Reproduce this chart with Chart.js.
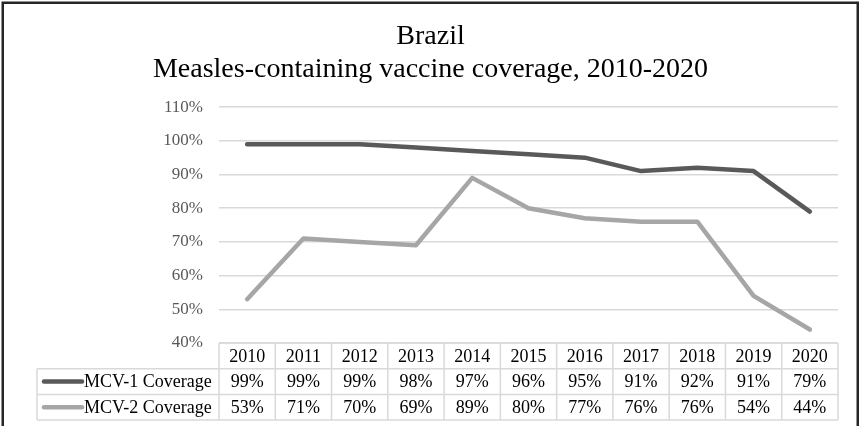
<!DOCTYPE html>
<html>
<head>
<meta charset="utf-8">
<title>Brazil MCV coverage</title>
<script src="https://cdn.jsdelivr.net/npm/chart.js@4/dist/chart.umd.min.js"></script>
<style>
  html, body { margin: 0; padding: 0; background: #fff; }
  #wrap { width: 861px; height: 426px; position: relative; }
</style>
</head>
<body>
<div id="wrap"><canvas id="coverageChart"></canvas></div>
<script>
const years = ['2010', '2011', '2012', '2013', '2014', '2015', '2016', '2017', '2018', '2019', '2020'];
const mcv1 = [99, 99, 99, 98, 97, 96, 95, 91, 92, 91, 79];
const mcv2 = [53, 71, 70, 69, 89, 80, 77, 76, 76, 54, 44];
const seriesNames = ['MCV-1 Coverage', 'MCV-2 Coverage'];
const seriesColors = ['#595959', '#a6a6a6'];

const serif = "'Liberation Serif', 'Times New Roman', serif";
const gridColor = '#d9d9d9';

// data table under the plot, columns follow the category scale
const dataTable = {
  id: 'dataTable',
  afterDraw(chart) {
    const ctx = chart.ctx;
    const xs = chart.scales.x;
    const area = chart.chartArea;
    const rowH = 25.7;
    const top = area.bottom;
    const labelLeft = 37;
    const n = years.length;

    const centers = years.map((y, i) => xs.getPixelForValue(i));
    const step = n > 1 ? centers[1] - centers[0] : area.right - area.left;
    const edges = centers.map(c => c - step / 2);
    edges.push(centers[n - 1] + step / 2);

    ctx.save();
    ctx.strokeStyle = gridColor;
    ctx.lineWidth = 1.5;
    ctx.beginPath();
    // horizontal rules
    ctx.moveTo(edges[0], top);
    ctx.lineTo(edges[n], top);
    for (let r = 1; r <= 3; r++) {
      ctx.moveTo(labelLeft, top + r * rowH);
      ctx.lineTo(edges[n], top + r * rowH);
    }
    // vertical rules
    edges.forEach(x => {
      ctx.moveTo(x, top);
      ctx.lineTo(x, top + 3 * rowH);
    });
    ctx.moveTo(labelLeft, top + rowH);
    ctx.lineTo(labelLeft, top + 3 * rowH);
    ctx.stroke();

    ctx.fillStyle = '#000';
    ctx.font = '18px ' + serif;
    ctx.textBaseline = 'middle';
    ctx.textAlign = 'center';
    years.forEach((y, i) => ctx.fillText(y, centers[i], top + rowH / 2 + 1));

    chart.data.datasets.forEach((ds, r) => {
      const cy = top + (r + 1.5) * rowH + 1;
      ctx.textAlign = 'center';
      ds.data.forEach((v, i) => ctx.fillText(v + '%', centers[i], cy));

      ctx.strokeStyle = ds.borderColor;
      ctx.lineWidth = 4.5;
      ctx.lineCap = 'round';
      ctx.beginPath();
      ctx.moveTo(44, cy - 1);
      ctx.lineTo(82, cy - 1);
      ctx.stroke();

      ctx.textAlign = 'left';
      ctx.fillText(ds.label, 84, cy);
    });

    // outer frame
    ctx.strokeStyle = '#262626';
    ctx.lineWidth = 2.5;
    ctx.strokeRect(2.75, 2.75, 855, 440);
    ctx.restore();
  }
};

new Chart(document.getElementById('coverageChart'), {
  type: 'line',
  data: {
    labels: years,
    datasets: [
      {
        label: seriesNames[0],
        data: mcv1,
        borderColor: seriesColors[0],
        backgroundColor: seriesColors[0],
        borderWidth: 4.5,
        pointRadius: 0,
        borderCapStyle: 'round',
        borderJoinStyle: 'round',
        tension: 0
      },
      {
        label: seriesNames[1],
        data: mcv2,
        borderColor: seriesColors[1],
        backgroundColor: seriesColors[1],
        borderWidth: 4.5,
        pointRadius: 0,
        borderCapStyle: 'round',
        borderJoinStyle: 'round',
        tension: 0
      }
    ]
  },
  options: {
    responsive: true,
    maintainAspectRatio: false,
    animation: false,
    layout: { padding: { left: 23, right: 23, top: 0, bottom: 83 } },
    plugins: {
      legend: { display: false },
      tooltip: { enabled: false },
      title: {
        display: true,
        text: ['Brazil', 'Measles-containing vaccine coverage, 2010-2020'],
        color: '#000',
        font: { family: serif, size: 28, weight: 'normal', lineHeight: 1.18 },
        padding: { top: 20.5, bottom: 20.5 }
      }
    },
    scales: {
      x: {
        type: 'category',
        offset: true,
        display: false
      },
      y: {
        min: 40,
        max: 110,
        afterFit(scale) { scale.width = 196; },
        border: { display: false },
        grid: { color: gridColor, lineWidth: 1.5, drawTicks: false },
        ticks: {
          stepSize: 10,
          padding: 16,
          color: '#595959',
          font: { family: serif, size: 17 },
          callback: v => v + '%'
        }
      }
    }
  },
  plugins: [dataTable]
});
</script>
</body>
</html>
